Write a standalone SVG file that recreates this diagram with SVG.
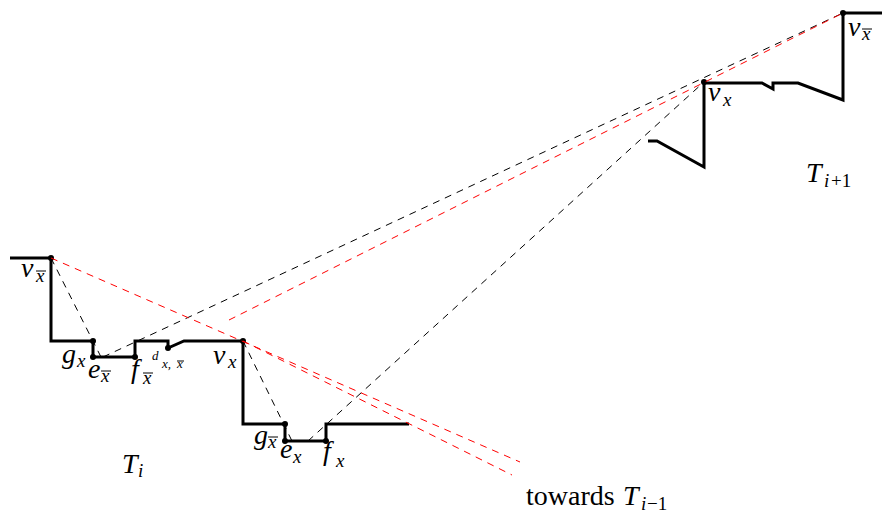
<svg xmlns="http://www.w3.org/2000/svg" width="882" height="514" viewBox="0 0 882 514">
<style>
.path{fill:none;stroke:#000;stroke-width:3;stroke-linejoin:miter}
.dk{fill:none;stroke:#000;stroke-width:1;stroke-dasharray:7 6}
.dr{fill:none;stroke:#ff0000;stroke-width:1;stroke-dasharray:7 6}
.pt{fill:#000}
.m{font-family:"Liberation Serif","Times New Roman",serif;font-style:italic;font-size:28px;fill:#000}
.s{font-family:"Liberation Serif","Times New Roman",serif;font-style:italic;font-size:19px;fill:#000}
.ss{font-family:"Liberation Serif","Times New Roman",serif;font-style:italic;font-size:13px;fill:#000}
.r{font-family:"Liberation Serif","Times New Roman",serif;font-size:28px;fill:#000}
.rs{font-family:"Liberation Serif","Times New Roman",serif;font-size:19px;fill:#000}
.bar{stroke:#000;stroke-width:1}
</style>
<g id="Ti">
<path class="path" d="M10,258 H51 V341 H93 V357 H135 V341 H168 V348 L184,341 H243 V424 H285 V441 H326 V424 H409"/>
</g>
<g id="Ti1">
<path class="path" d="M648,141 H657 L704,167 V83 H762 L773,89 V83 H798 L843,100 V13 H882"/>
</g>
<g id="points">
<circle class="pt" cx="51" cy="258" r="3"/>
<circle class="pt" cx="93" cy="341" r="3"/>
<circle class="pt" cx="93" cy="357" r="3"/>
<circle class="pt" cx="135" cy="357" r="3"/>
<circle class="pt" cx="168" cy="348" r="3"/>
<circle class="pt" cx="243" cy="341" r="3"/>
<circle class="pt" cx="285" cy="424" r="3"/>
<circle class="pt" cx="285" cy="441" r="3"/>
<circle class="pt" cx="326" cy="441" r="3"/>
<circle class="pt" cx="704" cy="82" r="3"/>
<circle class="pt" cx="843" cy="13" r="3"/>
</g>
<g id="connectors">
<line class="dk" x1="51" y1="258" x2="101" y2="357"/>
<line class="dk" x1="103" y1="357" x2="843" y2="13"/>
<line class="dk" x1="243" y1="341" x2="292" y2="441"/>
<line class="dk" x1="308" y1="441" x2="704" y2="82"/>
<line class="dr" x1="51" y1="258" x2="520" y2="462"/>
<line class="dr" x1="243" y1="341" x2="512" y2="475"/>
<line class="dr" x1="229" y1="320" x2="843" y2="13"/>
</g>
<g id="labels">
<g id="lbl-vxbar-left"><text class="m" x="21" y="277">v</text><text class="s" x="36" y="282">x</text><line class="bar" x1="36" y1="271" x2="46" y2="271"/></g>
<g id="lbl-gx"><text class="m" x="62" y="363">g</text><text class="s" x="77" y="367">x</text></g>
<g id="lbl-exbar"><text class="m" x="88" y="378">e</text><text class="s" x="101" y="382">x</text><line class="bar" x1="101" y1="371" x2="111" y2="371"/></g>
<g id="lbl-fxbar"><text class="m" x="131" y="378">f</text><text class="s" x="143" y="384">x</text><line class="bar" x1="143" y1="373" x2="153" y2="373"/></g>
<g id="lbl-d"><text class="ss" x="152" y="360">d</text><text class="ss" x="162" y="368">x,</text><text class="ss" x="177" y="368">x</text><line class="bar" x1="177" y1="361" x2="184" y2="361"/></g>
<g id="lbl-vx-left"><text class="m" x="213" y="364">v</text><text class="s" x="228" y="368">x</text></g>
<g id="lbl-gxbar"><text class="m" x="254" y="444">g</text><text class="s" x="268" y="448">x</text><line class="bar" x1="268" y1="437" x2="278" y2="437"/></g>
<g id="lbl-ex"><text class="m" x="280" y="458">e</text><text class="s" x="293" y="463">x</text></g>
<g id="lbl-fx"><text class="m" x="323" y="460">f</text><text class="s" x="336" y="467">x</text></g>
<g id="lbl-Ti"><text class="m" x="122" y="473">T</text><text class="s" x="138" y="477">i</text></g>
<g id="lbl-vx-right"><text class="m" x="708" y="101">v</text><text class="s" x="723" y="106">x</text></g>
<g id="lbl-vxbar-right"><text class="m" x="848" y="36">v</text><text class="s" x="862" y="40">x</text><line class="bar" x1="862" y1="29" x2="872" y2="29"/></g>
<g id="lbl-Ti1"><text class="m" x="806" y="182">T</text><text class="s" x="824" y="187">i</text><text class="rs" x="831" y="187">+1</text></g>
<g id="lbl-towards"><text class="r" x="526" y="505">towards</text><text class="m" x="623" y="505">T</text><text class="s" x="641" y="510">i</text><text class="rs" x="647" y="510">−1</text></g>
</g>
</svg>
